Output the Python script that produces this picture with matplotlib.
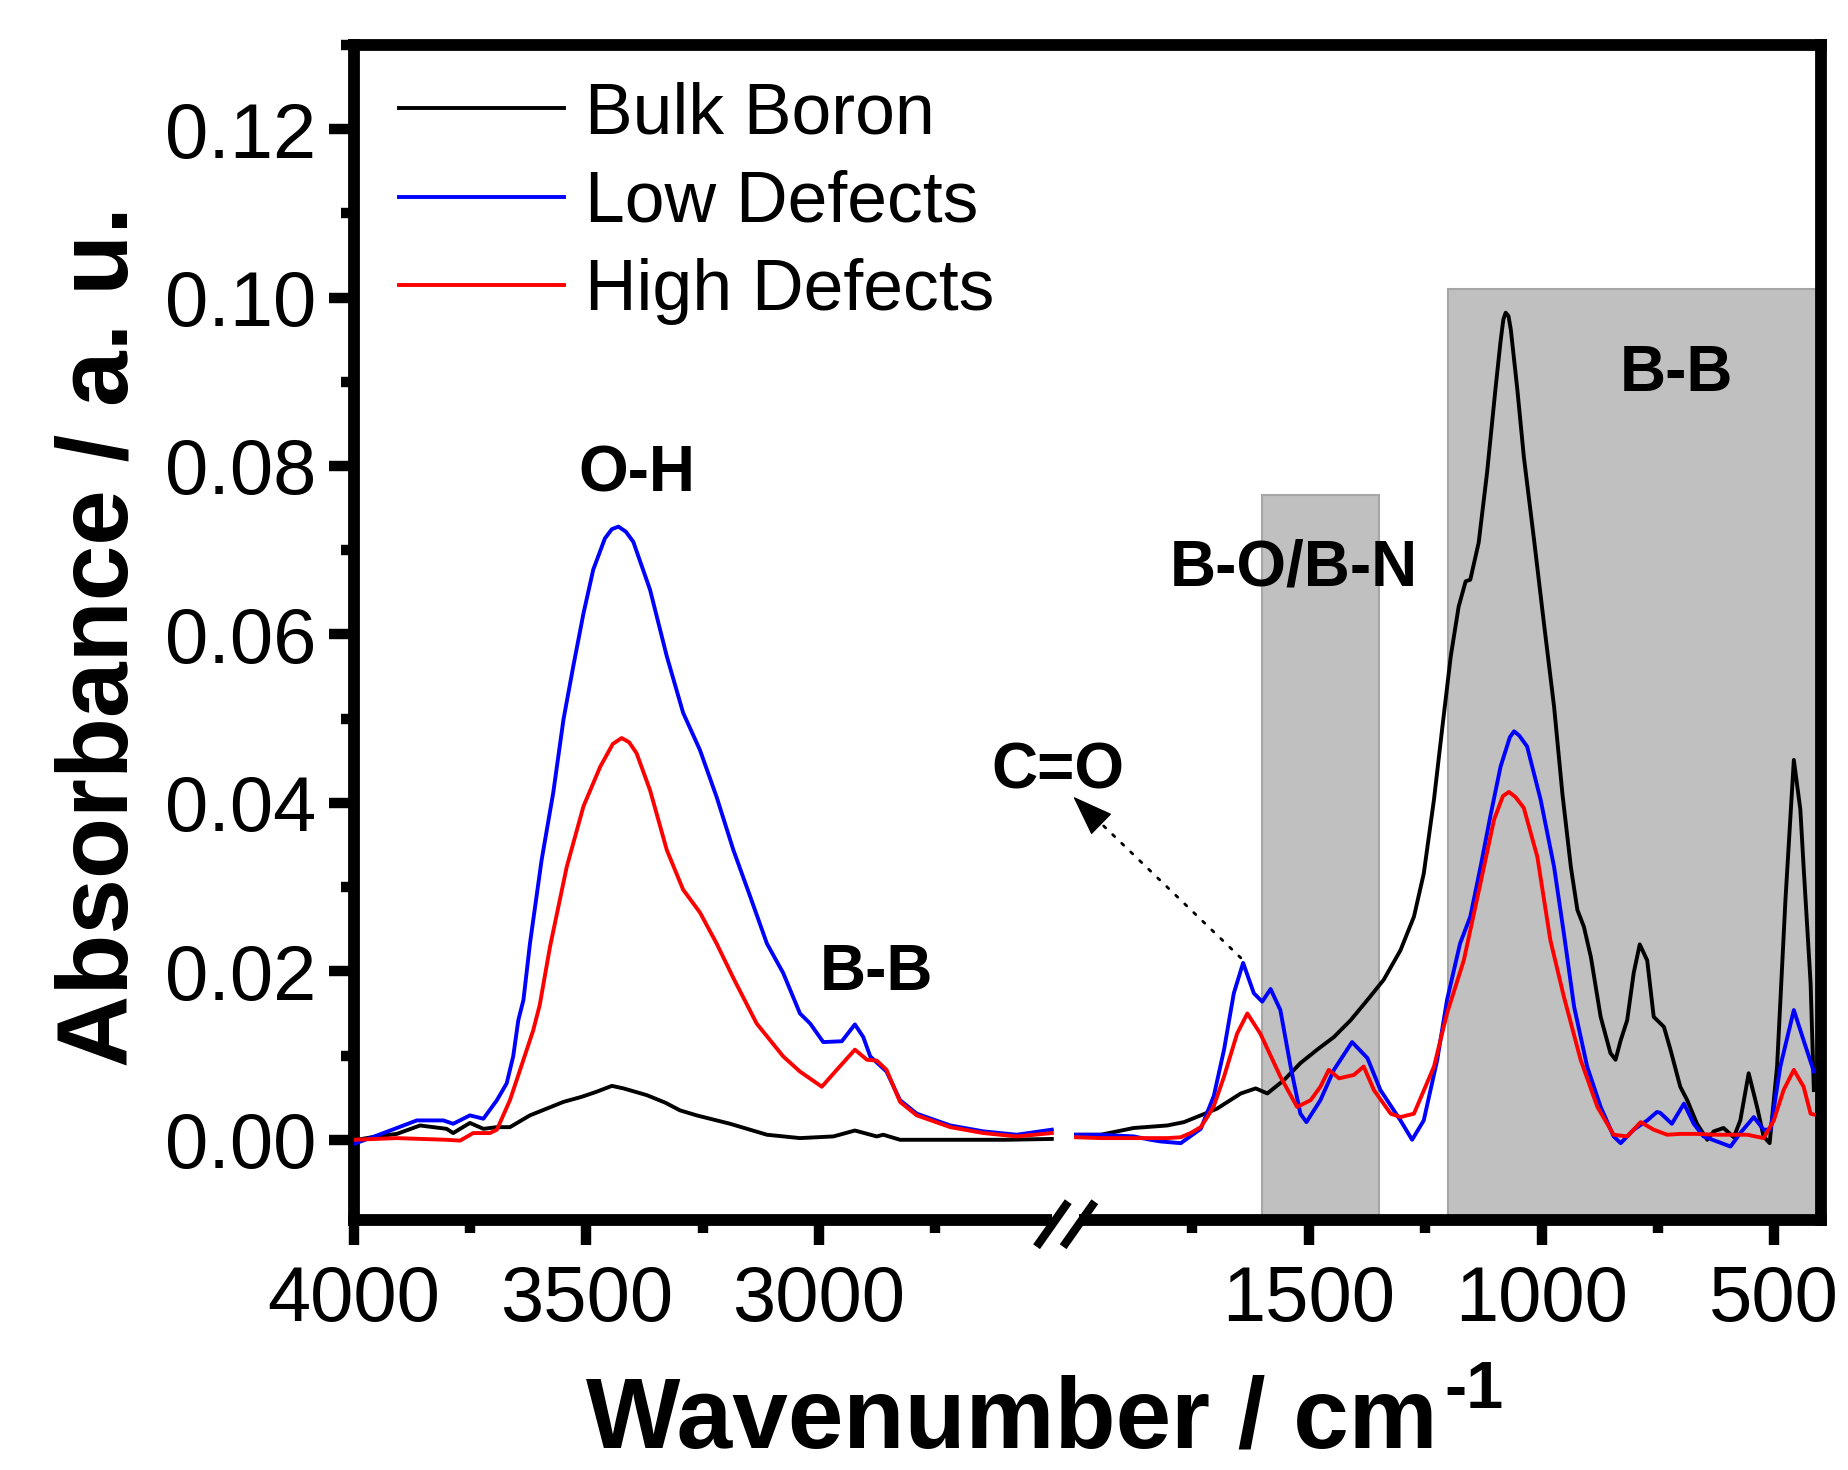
import matplotlib
matplotlib.use("Agg")
import matplotlib.pyplot as plt
from matplotlib.patches import Rectangle
from matplotlib.ticker import FixedLocator, FormatStrFormatter
import numpy as np

plt.rcParams.update({
    "font.family": "Liberation Sans",
    "font.size": 40,
})

# ---- data (wavenumber / cm-1, absorbance) ----
# high-wavenumber segment (4000-2500)
bulk_hi_wn = [4000, 3993, 3950, 3907, 3857, 3800, 3786, 3750, 3721, 3692,
              3664, 3621, 3585, 3549, 3510, 3478, 3445, 3420, 3370, 3330,
              3299, 3263, 3191, 3112, 3041, 2969, 2923, 2876, 2862, 2826,
              2750, 2682, 2600, 2500]
bulk_hi_abs = [0.0000, 0.0000, 0.0004, 0.0007, 0.0017, 0.0013, 0.0008, 0.0020, 0.0013, 0.0015,
               0.0015, 0.0029, 0.0037, 0.0045, 0.0051, 0.0057, 0.0064, 0.0061, 0.0053, 0.0044,
               0.0035, 0.0029, 0.0019, 0.0006, 0.0002, 0.0004, 0.0011, 0.0004, 0.0006, 0.0000,
               0.0000, 0.0000, 0.0000, 0.0001]

low_hi_wn = [4000, 3950, 3907, 3864, 3807, 3786, 3750, 3721, 3692, 3671,
             3657, 3646, 3635, 3621, 3596, 3571, 3549, 3528, 3506, 3485,
             3460, 3445, 3431, 3415, 3399, 3363, 3327, 3292, 3256, 3220,
             3184, 3148, 3112, 3077, 3041, 3019, 2991, 2951, 2923, 2905,
             2890, 2855, 2826, 2790, 2718, 2647, 2575, 2500]
low_hi_abs = [-0.0005, 0.0005, 0.0014, 0.0023, 0.0023, 0.0019, 0.0029, 0.0025, 0.0047, 0.0067,
              0.0099, 0.0142, 0.0166, 0.0233, 0.0332, 0.0412, 0.0499, 0.0562, 0.0625, 0.0677,
              0.0714, 0.0725, 0.0728, 0.0722, 0.0710, 0.0653, 0.0574, 0.0507, 0.0463, 0.0407,
              0.0344, 0.0289, 0.0233, 0.0198, 0.0150, 0.0138, 0.0116, 0.0117, 0.0137, 0.0122,
              0.0099, 0.0081, 0.0047, 0.0031, 0.0017, 0.0010, 0.0006, 0.0012]

high_hi_wn = [4000, 3907, 3800, 3771, 3743, 3707, 3692, 3664, 3635, 3614,
              3600, 3578, 3542, 3506, 3470, 3443, 3424, 3408, 3392, 3363,
              3327, 3292, 3256, 3220, 3184, 3134, 3077, 3041, 2994, 2962,
              2923, 2897, 2876, 2855, 2826, 2790, 2718, 2647, 2575, 2500]
high_hi_abs = [0.0000, 0.0002, 0.0000, -0.0001, 0.0008, 0.0008, 0.0012, 0.0047, 0.0095, 0.0130,
               0.0160, 0.0229, 0.0324, 0.0396, 0.0443, 0.0470, 0.0477, 0.0472, 0.0459, 0.0415,
               0.0344, 0.0297, 0.0270, 0.0233, 0.0192, 0.0138, 0.0099, 0.0081, 0.0063, 0.0083,
               0.0107, 0.0095, 0.0094, 0.0083, 0.0045, 0.0029, 0.0015, 0.0008, 0.0004, 0.0008]

# low-wavenumber segment (2000-400)
bulk_lo_wn = [2000, 1947, 1876, 1804, 1768, 1732, 1697, 1646, 1614, 1589,
              1553, 1518, 1482, 1446, 1410, 1374, 1339, 1303, 1274, 1253,
              1231, 1213, 1195, 1178, 1163, 1153, 1135, 1117, 1099, 1088,
              1082, 1077, 1071, 1066, 1052, 1038, 1016, 995, 973, 955,
              937, 923, 909, 894, 873, 852, 841, 830, 816, 802,
              789, 773, 759, 737, 723, 702, 687, 666, 644, 630,
              609, 587, 573, 555, 537, 523, 510, 494, 476, 458,
              444, 437, 422, 415]
bulk_lo_abs = [0.0006, 0.0006, 0.0014, 0.0017, 0.0021, 0.0029, 0.0037, 0.0055, 0.0061, 0.0055,
               0.0071, 0.0091, 0.0107, 0.0122, 0.0142, 0.0166, 0.0190, 0.0225, 0.0265, 0.0316,
               0.0404, 0.0490, 0.0574, 0.0633, 0.0663, 0.0665, 0.0709, 0.0792, 0.0891, 0.0948,
               0.0974, 0.0982, 0.0978, 0.0962, 0.0891, 0.0811, 0.0712, 0.0614, 0.0514, 0.0410,
               0.0324, 0.0273, 0.0253, 0.0217, 0.0146, 0.0103, 0.0095, 0.0118, 0.0142, 0.0198,
               0.0232, 0.0213, 0.0146, 0.0134, 0.0107, 0.0063, 0.0047, 0.0019, 0.0000, 0.0010,
               0.0014, 0.0003, 0.0023, 0.0079, 0.0039, 0.0004, -0.0004, 0.0087, 0.0285, 0.0451,
               0.0392, 0.0324, 0.0186, 0.0059]

low_lo_wn = [2000, 1947, 1876, 1840, 1818, 1775, 1732, 1704, 1682, 1661,
             1641, 1618, 1600, 1582, 1561, 1539, 1518, 1505, 1475, 1446,
             1407, 1374, 1346, 1303, 1278, 1253, 1224, 1203, 1175, 1153,
             1131, 1110, 1088, 1068, 1059, 1048, 1031, 1002, 973, 952,
             930, 902, 873, 845, 830, 802, 773, 752, 745, 720,
             694, 673, 652, 623, 594, 573, 544, 523, 508, 487,
             458, 437, 415]
low_lo_abs = [0.0006, 0.0006, 0.0004, 0.0000, -0.0002, -0.0004, 0.0013, 0.0052, 0.0107, 0.0174,
              0.0210, 0.0174, 0.0164, 0.0179, 0.0154, 0.0087, 0.0031, 0.0021, 0.0047, 0.0083,
              0.0116, 0.0097, 0.0059, 0.0023, 0.0000, 0.0023, 0.0095, 0.0166, 0.0233, 0.0265,
              0.0324, 0.0384, 0.0443, 0.0478, 0.0485, 0.0480, 0.0467, 0.0404, 0.0324, 0.0245,
              0.0158, 0.0087, 0.0039, 0.0004, -0.0004, 0.0012, 0.0023, 0.0033, 0.0032, 0.0019,
              0.0043, 0.0019, 0.0004, -0.0002, -0.0008, 0.0008, 0.0027, 0.0012, 0.0012, 0.0087,
              0.0154, 0.0118, 0.0081]

high_lo_wn = [2000, 1947, 1876, 1804, 1775, 1754, 1732, 1718, 1704, 1682,
              1654, 1632, 1604, 1561, 1525, 1496, 1475, 1457, 1435, 1403,
              1382, 1360, 1324, 1303, 1274, 1231, 1203, 1167, 1131, 1102,
              1083, 1070, 1056, 1038, 1009, 981, 952, 916, 880, 845,
              816, 787, 759, 730, 702, 666, 630, 594, 558, 523,
              501, 480, 458, 437, 422, 415]
high_lo_abs = [0.0003, 0.0002, 0.0002, 0.0002, 0.0003, 0.0008, 0.0015, 0.0027, 0.0040, 0.0075,
               0.0126, 0.0150, 0.0126, 0.0075, 0.0039, 0.0047, 0.0063, 0.0083, 0.0073, 0.0077,
               0.0087, 0.0059, 0.0031, 0.0027, 0.0031, 0.0087, 0.0150, 0.0213, 0.0305, 0.0380,
               0.0408, 0.0413, 0.0407, 0.0394, 0.0336, 0.0237, 0.0170, 0.0095, 0.0039, 0.0006,
               0.0004, 0.0021, 0.0012, 0.0006, 0.0007, 0.0007, 0.0006, 0.0006, 0.0006, 0.0002,
               0.0023, 0.0059, 0.0083, 0.0063, 0.0031, 0.0030]

series_names = ["Bulk Boron", "Low Defects", "High Defects"]
series_colors = ["#000000", "#0000ff", "#ff0000"]

# shaded assignment bands: (from, to, top absorbance)
bands = [(1600, 1350, 0.0766), (1200, 400, 0.1010)]

major_ticks = [4000, 3500, 3000, 1500, 1000, 500]
minor_ticks = [3750, 3250, 2750, 1750, 1250, 750]

# ---- broken x scale: 2500..2000 squeezed into a small gap ----
BRK_LO, BRK_HI, GAP = 2000.0, 2500.0, 52.0


def fwd(x):
    x = np.asarray(x, float)
    return np.where(x <= BRK_LO, x,
                    np.where(x >= BRK_HI, x - (BRK_HI - BRK_LO) + GAP,
                             BRK_LO + (x - BRK_LO) * GAP / (BRK_HI - BRK_LO)))


def inv(u):
    u = np.asarray(u, float)
    return np.where(u <= BRK_LO, u,
                    np.where(u >= BRK_LO + GAP, u + (BRK_HI - BRK_LO) - GAP,
                             BRK_LO + (u - BRK_LO) * (BRK_HI - BRK_LO) / GAP))


fig = plt.figure(figsize=(18.48, 14.70), dpi=100)
ax = fig.add_axes([0.1913, 0.1702, 0.7940, 0.7993])
ax.set_xscale("function", functions=(fwd, inv))
ax.set_xlim(4000, 400)
ax.set_ylim(-0.0095, 0.130)

# gray bands
for x0, x1, top in bands:
    ax.add_patch(Rectangle((x1, -0.0091), x0 - x1, top + 0.0091,
                           fc="#c0c0c0", ec="#a6a6a6", lw=1.5, zorder=1))

segments = [
    (bulk_hi_wn, bulk_hi_abs, bulk_lo_wn, bulk_lo_abs),
    (low_hi_wn, low_hi_abs, low_lo_wn, low_lo_abs),
    (high_hi_wn, high_hi_abs, high_lo_wn, high_lo_abs),
]
for (xh, yh, xl, yl), name, col in zip(segments, series_names, series_colors):
    ax.plot(xh, yh, color=col, lw=2.8, label=name, zorder=3,
            solid_joinstyle="round")
    ax.plot(xl, yl, color=col, lw=2.8, zorder=3, solid_joinstyle="round")

# ---- axes styling ----
for sp in ax.spines.values():
    sp.set_linewidth(8.5)
ax.xaxis.set_major_locator(FixedLocator(major_ticks))
ax.xaxis.set_minor_locator(FixedLocator(minor_ticks))
ax.xaxis.set_major_formatter(FormatStrFormatter("%d"))
ax.set_yticks(np.arange(0, 0.121, 0.02))
ax.set_yticks(np.arange(0, 0.131, 0.01), minor=True)
ax.yaxis.set_major_formatter(FormatStrFormatter("%.2f"))
ax.tick_params(which="major", direction="out", length=18, width=7.5,
               labelsize=56)
ax.tick_params(axis="y", which="major", pad=9)
ax.tick_params(axis="x", which="major", pad=14)
ax.tick_params(which="minor", direction="out", length=9.5, width=7.5)

# break mark on bottom axis
ax.add_patch(Rectangle((0.4763, -0.02), 0.0181, 0.04, transform=ax.transAxes,
                       fc="white", ec="none", clip_on=False, zorder=5))
for xc in (0.4763, 0.4944):
    ax.plot([xc - 0.0108, xc + 0.0108], [-0.0229, 0.0154], color="black",
            lw=6, solid_capstyle="butt", transform=ax.transAxes,
            clip_on=False, zorder=6)

# ---- peak labels ----
lab_kw = dict(fontsize=46, fontweight="bold", ha="center", va="baseline", zorder=4)
ax.text(3392, 0.0770, "O-H", **lab_kw)
ax.text(2876, 0.0178, "B-B", **lab_kw)
ax.text(1532, 0.0658, "B-O/B-N", **lab_kw)
ax.text(710, 0.0889, "B-B", **lab_kw)
ax.text(0.4797, 0.3672, "C=O", transform=ax.transAxes, **lab_kw)
# dotted leader from the C=O band to the label, plus a solid head
ax.annotate("", xy=(0.4905, 0.3601), xycoords="axes fraction",
            xytext=(1646, 0.0216), textcoords="data",
            arrowprops=dict(arrowstyle="-", color="black", lw=2.0,
                            linestyle=(0, (1, 3.5)), shrinkA=0, shrinkB=0),
            zorder=4)
ax.annotate("", xy=(0.4905, 0.3601), xycoords="axes fraction",
            xytext=(0.5051, 0.3423), textcoords="axes fraction",
            arrowprops=dict(arrowstyle="-|>,head_length=1.1,head_width=0.4",
                            color="black", lw=1.0, mutation_scale=24,
                            shrinkA=0, shrinkB=0), zorder=4)

leg = ax.legend(loc="upper left", bbox_to_anchor=(0.0313, 0.969), frameon=False,
                fontsize=51.5, handlelength=2.3, handletextpad=0.3,
                labelspacing=0.3, borderpad=0, borderaxespad=0)
for ln in leg.get_lines():
    ln.set_linewidth(2.8)

# ---- axis titles ----
fig.text(0.055, 0.567, "Absorbance / a. u.", rotation=90, ha="center",
         va="center", fontsize=72, fontweight="bold")
fig.text(0.317, 0.015, "Wavenumber / cm", ha="left", va="baseline",
         fontsize=72, fontweight="bold")
fig.text(0.7814, 0.042, "-1", ha="left", va="baseline",
         fontsize=48, fontweight="bold")

fig.savefig("out.png", dpi=100)
